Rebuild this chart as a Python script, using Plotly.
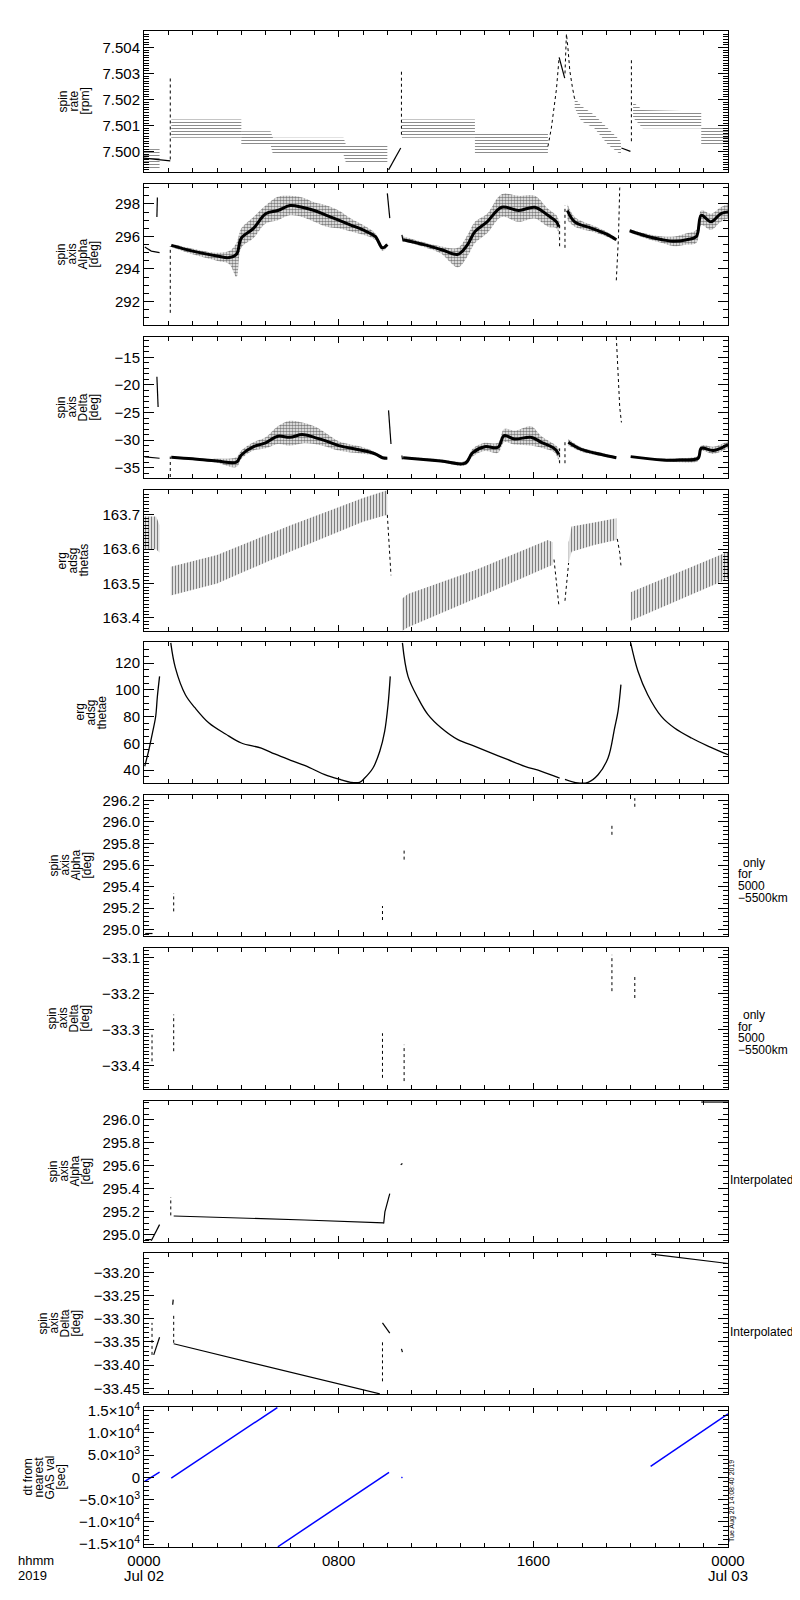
import plotly.graph_objects as go
from plotly.subplots import make_subplots

# x in hours after 0000 UT, 2019 Jul 02

# ---- panel 1: spin rate [rpm]
rate_band_t = [[0.0, 0.64], [1.12, 4.0], [4.0, 5.2, 5.3, 8.2, 8.3, 10.0], [10.6, 13.6],
               [13.6, 16.6], [17.7, 17.97, 18.5, 19.07, 19.6], [20.1, 20.5, 22.9], [22.9, 24.0]]
rate_band_lo = [[7.4993, 7.4993], [7.50053, 7.50053],
                [7.50027, 7.50027, 7.49988, 7.49988, 7.49957, 7.49957], [7.50053, 7.50053],
                [7.49989, 7.49989], [7.50168, 7.50117, 7.50091, 7.50027, 7.49988],
                [7.5013, 7.5009, 7.5009], [7.50027, 7.50027]]
rate_band_hi = [[7.5001, 7.5001], [7.50123, 7.50123],
                [7.50078, 7.50078, 7.50053, 7.50053, 7.50027, 7.50027], [7.50123, 7.50123],
                [7.50075, 7.50075], [7.50207, 7.50175, 7.50142, 7.50091, 7.5004],
                [7.5019, 7.5016, 7.50154], [7.50096, 7.50096]]
rate_line_t = [[0.0, 1.08], [10.05, 10.55], [17.06, 17.29], [19.62, 19.99]]
rate_line_v = [[7.49975, 7.49965], [7.4993, 7.50014], [7.50362, 7.50282], [7.50014, 7.50001]]
rate_dot_t = [[1.08, 1.08], [10.58, 10.58], [20.03, 20.03],
              [16.6, 16.74, 16.95, 17.06], [17.3, 17.33, 17.36, 17.42, 17.5, 17.6, 17.7]]
rate_dot_v = [[7.4997, 7.50283], [7.50065, 7.50309], [7.5004, 7.50352],
              [7.5002, 7.5009, 7.5024, 7.50362], [7.5030, 7.5040, 7.50452, 7.5040, 7.5031, 7.5025, 7.5020]]

# ---- panel 2: spin axis Alpha [deg]
alpha_cloud_t = [[1.12, 2.0, 3.0, 3.5, 3.8, 4.0, 4.5, 5.0, 5.5, 6.0, 6.5, 7.0, 7.5, 8.0, 8.5, 9.0, 9.5, 9.8, 10.0],
                 [10.65, 11.5, 12.2, 12.9, 13.3, 13.6, 14.1, 14.7, 15.4, 16.06, 16.6, 16.95, 17.05],
                 [17.4, 17.7, 18.4, 19.07, 19.41],
                 [19.96, 20.7, 21.3, 21.8, 22.3, 22.7, 22.9, 23.3, 23.7, 24.0]]
alpha_cloud_c = [[295.45, 295.1, 294.8, 294.7, 294.9, 295.9, 296.5, 297.4, 297.6, 297.9, 297.8, 297.6, 297.3, 297.0, 296.7, 296.4, 296.0, 295.3, 295.5],
                 [295.8, 295.5, 295.2, 294.9, 295.5, 296.3, 296.9, 297.8, 297.6, 297.8, 297.3, 296.9, 296.6],
                 [297.6, 296.9, 296.5, 296.1, 295.8],
                 [296.35, 296.0, 295.8, 295.7, 295.8, 296.0, 297.3, 296.9, 297.4, 297.5]]
alpha_cloud_lo = [[295.35, 294.9, 294.5, 294.3, 293.5, 295.3, 295.9, 296.8, 297.0, 297.3, 297.2, 296.9, 296.6, 296.5, 296.3, 296.1, 295.8, 295.1, 295.4],
                  [295.7, 295.35, 294.95, 294.1, 294.8, 295.6, 296.2, 297.2, 296.9, 297.1, 296.6, 296.5, 295.4],
                  [297.0, 296.6, 296.3, 295.95, 295.7],
                  [296.25, 295.85, 295.6, 295.4, 295.5, 295.6, 296.7, 296.4, 296.9, 297.1]]
alpha_cloud_hi = [[295.55, 295.25, 295.0, 295.1, 295.6, 296.5, 297.2, 297.9, 298.45, 298.5, 298.4, 298.1, 297.9, 297.6, 297.1, 296.7, 296.2, 295.4, 295.6],
                  [296.0, 295.65, 295.4, 295.3, 296.1, 296.9, 297.4, 298.6, 298.5, 298.5, 297.7, 297.3, 297.0],
                  [298.0, 297.2, 296.7, 296.25, 295.9],
                  [296.45, 296.15, 296.0, 296.0, 296.2, 296.4, 297.6, 297.4, 297.8, 298.0]]
alpha_line_t = [[0.03, 0.3, 0.64], [0.53, 0.55], [10.0, 10.1], [10.6, 10.65]]
alpha_line_v = [[295.35, 295.1, 295.0], [297.2, 298.4], [298.65, 297.13], [296.1, 295.7]]
alpha_dot_t = [[1.08, 1.08], [17.08, 17.08], [17.3, 17.3], [19.41, 19.5, 19.55, 19.62]]
alpha_dot_v = [[291.3, 295.4], [295.4, 296.9], [295.3, 297.9], [293.3, 296.0, 299.0, 299.15]]

# ---- panel 3: spin axis Delta [deg]
delta_cloud_t = [[1.12, 2.0, 3.0, 3.8, 4.0, 4.5, 5.0, 5.5, 6.0, 6.5, 7.0, 7.5, 8.0, 9.0, 9.5, 9.8, 10.0],
                 [10.65, 12.2, 13.2, 13.5, 14.0, 14.55, 14.8, 15.23, 15.9, 16.33, 16.88, 17.05],
                 [17.44, 17.97, 18.8, 19.41],
                 [20.0, 21.3, 22.0, 22.77, 22.9, 23.4, 24.0]]
delta_cloud_c = [[-33.1, -33.4, -33.8, -34.0, -32.7, -31.2, -30.5, -29.3, -29.5, -29.0, -29.5, -30.2, -31.0, -31.9, -32.5, -33.2, -33.3],
                 [-33.2, -33.8, -34.2, -32.3, -31.2, -31.3, -29.2, -29.8, -29.5, -30.4, -31.6, -32.6],
                 [-30.4, -31.7, -32.6, -33.2],
                 [-33.0, -33.6, -33.6, -33.3, -31.5, -31.9, -30.8]]
delta_cloud_lo = [[-33.2, -33.5, -34.1, -34.9, -33.4, -31.9, -31.5, -30.7, -31.0, -30.6, -30.7, -31.2, -31.9, -32.5, -32.8, -33.4, -33.4],
                  [-33.4, -34.0, -34.6, -33.0, -32.0, -32.3, -30.4, -30.8, -31.0, -31.4, -32.3, -34.0],
                  [-31.0, -32.1, -32.9, -33.4],
                  [-33.1, -33.8, -34.0, -33.8, -32.0, -32.5, -31.5]]
delta_cloud_hi = [[-33.0, -33.3, -33.4, -33.1, -31.9, -30.4, -29.5, -27.5, -26.5, -26.8, -27.5, -28.8, -30.2, -31.3, -32.2, -33.1, -33.2],
                  [-33.0, -33.5, -33.8, -31.6, -30.5, -30.5, -28.0, -28.3, -27.5, -29.3, -30.8, -31.5],
                  [-29.8, -31.3, -32.3, -33.0],
                  [-32.9, -33.4, -33.3, -32.8, -31.0, -31.2, -30.2]]
delta_line_t = [[0.03, 0.64], [0.53, 0.58], [10.05, 10.15], [10.6, 10.62]]
delta_line_v = [[-33.05, -33.3], [-18.5, -24.0], [-24.6, -30.7], [-32.8, -33.5]]
delta_dot_t = [[1.08, 1.08], [17.08, 17.08], [17.3, 17.3], [19.41, 19.45, 19.5, 19.55, 19.62]]
delta_dot_v = [[-36.7, -33.0], [-34.2, -31.5], [-34.2, -30.3], [-11.3, -15.0, -20.0, -24.0, -26.8]]

# ---- panel 4: erg adsg thetas
thetas_band_t = [[0.0, 0.5, 0.64], [1.1, 3.0, 6.0, 9.0, 10.0], [10.6, 10.85, 13.6, 16.6, 16.8],
                 [17.45, 17.57, 18.5, 19.41], [20.0, 24.0]]
thetas_band_lo = [[163.600, 163.600, 163.59], [163.465, 163.5, 163.593, 163.68, 163.7],
                  [163.362, 163.373, 163.456, 163.549, 163.555], [163.56, 163.593, 163.612, 163.627],
                  [163.392, 163.514]]
thetas_band_hi = [[163.695, 163.695, 163.67], [163.549, 163.583, 163.669, 163.749, 163.772],
                  [163.456, 163.47, 163.539, 163.627, 163.62], [163.62, 163.666, 163.678, 163.69],
                  [163.475, 163.593]]
thetas_dot_t = [[10.0, 10.05, 10.1, 10.15], [16.85, 16.95, 17.05], [17.3, 17.4, 17.45], [19.45, 19.55, 19.6]]
thetas_dot_v = [[163.7, 163.65, 163.58, 163.524], [163.57, 163.5, 163.436], [163.45, 163.52, 163.56],
                [163.63, 163.59, 163.553]]

# ---- panel 5: erg adsg thetae
thetae_line_t = [[0.03, 0.2, 0.35, 0.48, 0.55, 0.64],
                 [1.1, 1.29, 1.7, 2.1, 2.67, 3.35, 4.0, 4.82, 5.37, 6.06, 6.78, 7.43, 8.1, 8.5, 8.86, 9.07, 9.41, 9.69, 9.89, 10.03, 10.12],
                 [10.62, 10.85, 11.26, 11.67, 12.22, 12.9, 13.6, 14.28, 14.96, 15.65, 16.33, 17.08],
                 [17.3, 17.83, 18.25, 18.66, 19.07, 19.34, 19.48, 19.6],
                 [20.0, 20.3, 20.7, 21.26, 21.8, 22.5, 23.2, 24.0]]
thetae_line_v = [[42.8, 55, 68, 80, 95, 110],
                 [135, 116.3, 96.3, 86.4, 75.1, 66.9, 60.2, 56.4, 52.0, 47.0, 42.0, 36.5, 32.7, 30.8, 30.8, 34.0, 41.5, 54.0, 68.9, 88.9, 110],
                 [135, 110, 93.8, 81.4, 71.4, 62.7, 57.7, 52.7, 47.7, 42.8, 39.0, 34.0],
                 [33.0, 30.3, 30.8, 36.5, 49.0, 71.4, 83.9, 103.8],
                 [135, 113.8, 96.3, 80.1, 71.4, 63.9, 57.7, 51.4]]

# ---- panel 6: Alpha, only 5000-5500 km
alpha5_line_t = [[0.05, 0.35]]
alpha5_line_v = [[294.965, 294.965]]
alpha5_dot_t = [[1.22, 1.22], [9.8, 9.8], [10.69, 10.69], [19.23, 19.23], [20.17, 20.17]]
alpha5_dot_v = [[295.17, 295.34], [295.09, 295.22], [295.65, 295.74], [295.88, 295.99], [296.14, 296.22]]

# ---- panel 7: Delta, only 5000-5500 km
delta5_dot_t = [[0.33, 0.33], [1.22, 1.22], [9.8, 9.8], [10.69, 10.69], [19.23, 19.23], [20.17, 20.17]]
delta5_dot_v = [[-33.388, -33.314], [-33.36, -33.258], [-33.434, -33.31], [-33.443, -33.342],
                [-33.193, -33.092], [-33.212, -33.152]]

# ---- panel 8: Alpha, interpolated
alphai_line_t = [[0.05, 0.3], [0.3, 0.64], [1.22, 3.9, 6.6, 9.85], [9.85, 9.9, 10.1], [10.55, 10.62], [22.9, 24.0]]
alphai_line_v = [[294.96, 294.96], [294.95, 295.09], [295.165, 295.15, 295.13, 295.105],
                 [295.1, 295.2, 295.36], [295.61, 295.62], [296.155, 296.155]]
alphai_dot_t = [[1.1, 1.1]]
alphai_dot_v = [[295.17, 295.33]]

# ---- panel 9: Delta, interpolated
deltai_line_t = [[0.4, 0.64], [1.18, 1.2], [1.22, 9.69], [9.8, 10.1], [10.58, 10.62], [20.85, 24.0]]
deltai_line_v = [[-33.378, -33.34], [-33.27, -33.259], [-33.354, -33.462], [-33.309, -33.331],
                 [-33.365, -33.372], [-33.161, -33.181]]
deltai_dot_t = [[0.33, 0.33], [1.22, 1.22], [9.8, 9.8]]
deltai_dot_v = [[-33.378, -33.309], [-33.352, -33.288], [-33.435, -33.349]]

# ---- panel 10: dt from nearest GAS val [sec]
dt_line_t = [[0.03, 0.64], [1.12, 5.48], [5.5, 10.07], [10.58, 10.62], [20.82, 24.0]]
dt_line_v = [[-900, 1190], [-160, 15680], [-15600, 1120], [-100, 50], [2460, 14250]]

# axis setup
y_ranges = [[7.49922, 7.50463], [290.55, 299.23], [-36.88, -11.29], [163.362, 163.7724], [30.3, 135.7],
            [294.942, 296.249], [-33.465, -33.073], [294.939, 296.164], [-33.4623, -33.1584], [-15650, 15800]]
y_dtick = [0.001, 2, 5, 0.1, 20, 0.2, 0.1, 0.2, 0.05, None]
y_minor = [0.0001, 0.5, 1, 0.01, 5, 0.04, 0.01, 0.05, 0.01, 1000]
y_fmt = [".3f", "d", "d", ".1f", "d", ".1f", ".1f", ".1f", ".2f", None]
dt_tickvals = [-15000, -10000, -5000, 0, 5000, 10000, 15000]
dt_ticktext = ["−1.5×10<sup>4</sup>", "−1.0×10<sup>4</sup>", "−5.0×10<sup>3</sup>", "0",
               "5.0×10<sup>3</sup>", "1.0×10<sup>4</sup>", "1.5×10<sup>4</sup>"]
x_tickvals = [0, 8, 16, 24]
x_ticktext = ["0000", "0800", "1600", "0000"]

titles = [["spin", "rate", "[rpm]"], ["spin", "axis", "Alpha", "[deg]"], ["spin", "axis", "Delta", "[deg]"],
          ["erg", "adsg", "thetas"], ["erg", "adsg", "thetae"], ["spin", "axis", "Alpha", "[deg]"],
          ["spin", "axis", "Delta", "[deg]"], ["spin", "axis", "Alpha", "[deg]"], ["spin", "axis", "Delta", "[deg]"],
          ["dt from", "nearest", "GAS val", "[sec]"]]
title_x0 = [55, 52, 52, 53, 71, 45, 44, 44, 34, 19]

# page geometry (px)
W, H = 800, 1600
L, R = 136, 720
TOPS = [23, 176, 329, 482, 634, 787, 940, 1093, 1245, 1399]
PH = 141
BOT = 1539
FONT = "Liberation Sans"


def px(p):
    return (p - L) / (R - L)


def py(p):
    return (BOT - p) / (BOT - TOPS[0])


fig = make_subplots(rows=10, cols=1)


def add_lines(row, ts, vs, dash="solid", width=1.2, color="black", shape="linear"):
    for t, v in zip(ts, vs):
        fig.add_trace(go.Scatter(x=t, y=v, mode="lines", showlegend=False, hoverinfo="skip",
                                 line=dict(color=color, width=width, dash=dash, shape=shape)),
                      row=row, col=1)


def add_bands(row, ts, los, his, shape, size, solidity, smooth="linear"):
    for t, lo, hi in zip(ts, los, his):
        fig.add_trace(go.Scatter(x=t, y=lo, mode="lines", showlegend=False, hoverinfo="skip",
                                 line=dict(width=0, color="black", shape=smooth)), row=row, col=1)
        fig.add_trace(go.Scatter(x=t, y=hi, mode="lines", showlegend=False, hoverinfo="skip",
                                 line=dict(width=0, color="black", shape=smooth), fill="tonexty",
                                 fillcolor="rgba(0,0,0,0)",
                                 fillpattern=dict(shape=shape, fgcolor="black", size=size,
                                                  solidity=solidity)), row=row, col=1)


# panel 1
add_bands(1, rate_band_t, rate_band_lo, rate_band_hi, "-", 3, 0.3)
add_lines(1, rate_line_t, rate_line_v)
add_lines(1, rate_dot_t, rate_dot_v, dash="dot", width=1)
# panel 2
add_bands(2, alpha_cloud_t, alpha_cloud_lo, alpha_cloud_hi, ".", 3, 0.6, smooth="spline")
add_lines(2, alpha_cloud_t, alpha_cloud_c, width=3, shape="spline")
add_lines(2, alpha_line_t, alpha_line_v)
add_lines(2, alpha_dot_t, alpha_dot_v, dash="dot", width=1)
# panel 3
add_bands(3, delta_cloud_t, delta_cloud_lo, delta_cloud_hi, ".", 3, 0.6, smooth="spline")
add_lines(3, delta_cloud_t, delta_cloud_c, width=3, shape="spline")
add_lines(3, delta_line_t, delta_line_v)
add_lines(3, delta_dot_t, delta_dot_v, dash="dot", width=1)
# panel 4
add_bands(4, thetas_band_t, thetas_band_lo, thetas_band_hi, "|", 3, 0.5)
add_lines(4, thetas_dot_t, thetas_dot_v, dash="dot", width=1)
# panel 5
add_lines(5, thetae_line_t, thetae_line_v, width=1.3, shape="spline")
# panel 6-9
add_lines(6, alpha5_line_t, alpha5_line_v)
add_lines(6, alpha5_dot_t, alpha5_dot_v, dash="dot", width=1)
add_lines(7, delta5_dot_t, delta5_dot_v, dash="dot", width=1)
add_lines(8, alphai_line_t, alphai_line_v)
add_lines(8, alphai_dot_t, alphai_dot_v, dash="dot", width=1)
add_lines(9, deltai_line_t, deltai_line_v)
add_lines(9, deltai_dot_t, deltai_dot_v, dash="dot", width=1)
# panel 10
add_lines(10, dt_line_t, dt_line_v, color="#0000ff", width=1.5)

axis_common = dict(showline=True, linecolor="black", linewidth=1, mirror="ticks", ticks="inside",
                   tickcolor="black", showgrid=False, zeroline=False,
                   tickfont=dict(family=FONT, size=15, color="black"))

for i in range(10):
    row = i + 1
    top = TOPS[i]
    bot = BOT if row == 10 else top + PH
    fig.update_yaxes(row=row, col=1, domain=[py(bot), py(top)], range=y_ranges[i], ticklen=10,
                     minor=dict(ticks="inside", ticklen=5, dtick=y_minor[i], tick0=0,
                                tickcolor="black", showgrid=False), **axis_common)
    if y_dtick[i] is not None:
        fig.update_yaxes(row=row, col=1, dtick=y_dtick[i], tick0=0, tickformat=y_fmt[i])
    else:
        fig.update_yaxes(row=row, col=1, tickmode="array", tickvals=dt_tickvals, ticktext=dt_ticktext)
    fig.update_xaxes(row=row, col=1, range=[0, 24], tickmode="array", tickvals=x_tickvals,
                     showticklabels=(row == 10), ticklen=6,
                     minor=dict(ticks="inside", ticklen=4, dtick=1, tick0=0,
                                tickcolor="black", showgrid=False), **axis_common)
fig.update_xaxes(row=10, col=1, ticktext=x_ticktext)

ann = []


def text(s, x, y, size=12, angle=0, xanchor="center"):
    ann.append(dict(text=s, x=px(x), y=py(y), xref="paper", yref="paper", showarrow=False,
                    textangle=angle, xanchor=xanchor, yanchor="middle",
                    font=dict(family=FONT, size=size, color="black")))


# rotated y titles, one line per annotation
for i in range(10):
    mid = TOPS[i] + PH / 2
    for k, s in enumerate(titles[i]):
        text(s, title_x0[i] + 11 * k, mid, size=12, angle=-90)

for k, s in enumerate(["only", "for", "5000", "−5500km"]):
    xl = 733 if k == 0 else 728
    text(s, xl, 855 + 11.5 * k, size=12, xanchor="left")
    text(s, xl, 1007 + 11.5 * k, size=12, xanchor="left")
text("Interpolated", 720, 1172, size=12, xanchor="left")
text("Interpolated", 720, 1324, size=12, xanchor="left")
text("Tue Aug 20 14:08:40 2019", 724, 1493, size=7, angle=-90)
text("hhmm", 8, 1552, size=13, xanchor="left")
text("2019", 8, 1567, size=13, xanchor="left")
text("Jul 02", 136, 1567, size=15)
text("Jul 03", 720, 1567, size=15)

fig.update_layout(width=W, height=H, margin=dict(l=L, r=W - R, t=TOPS[0], b=H - BOT),
                  paper_bgcolor="white", plot_bgcolor="white", showlegend=False,
                  font=dict(family=FONT, size=13, color="black"), annotations=ann)

fig.write_html("out.html")
